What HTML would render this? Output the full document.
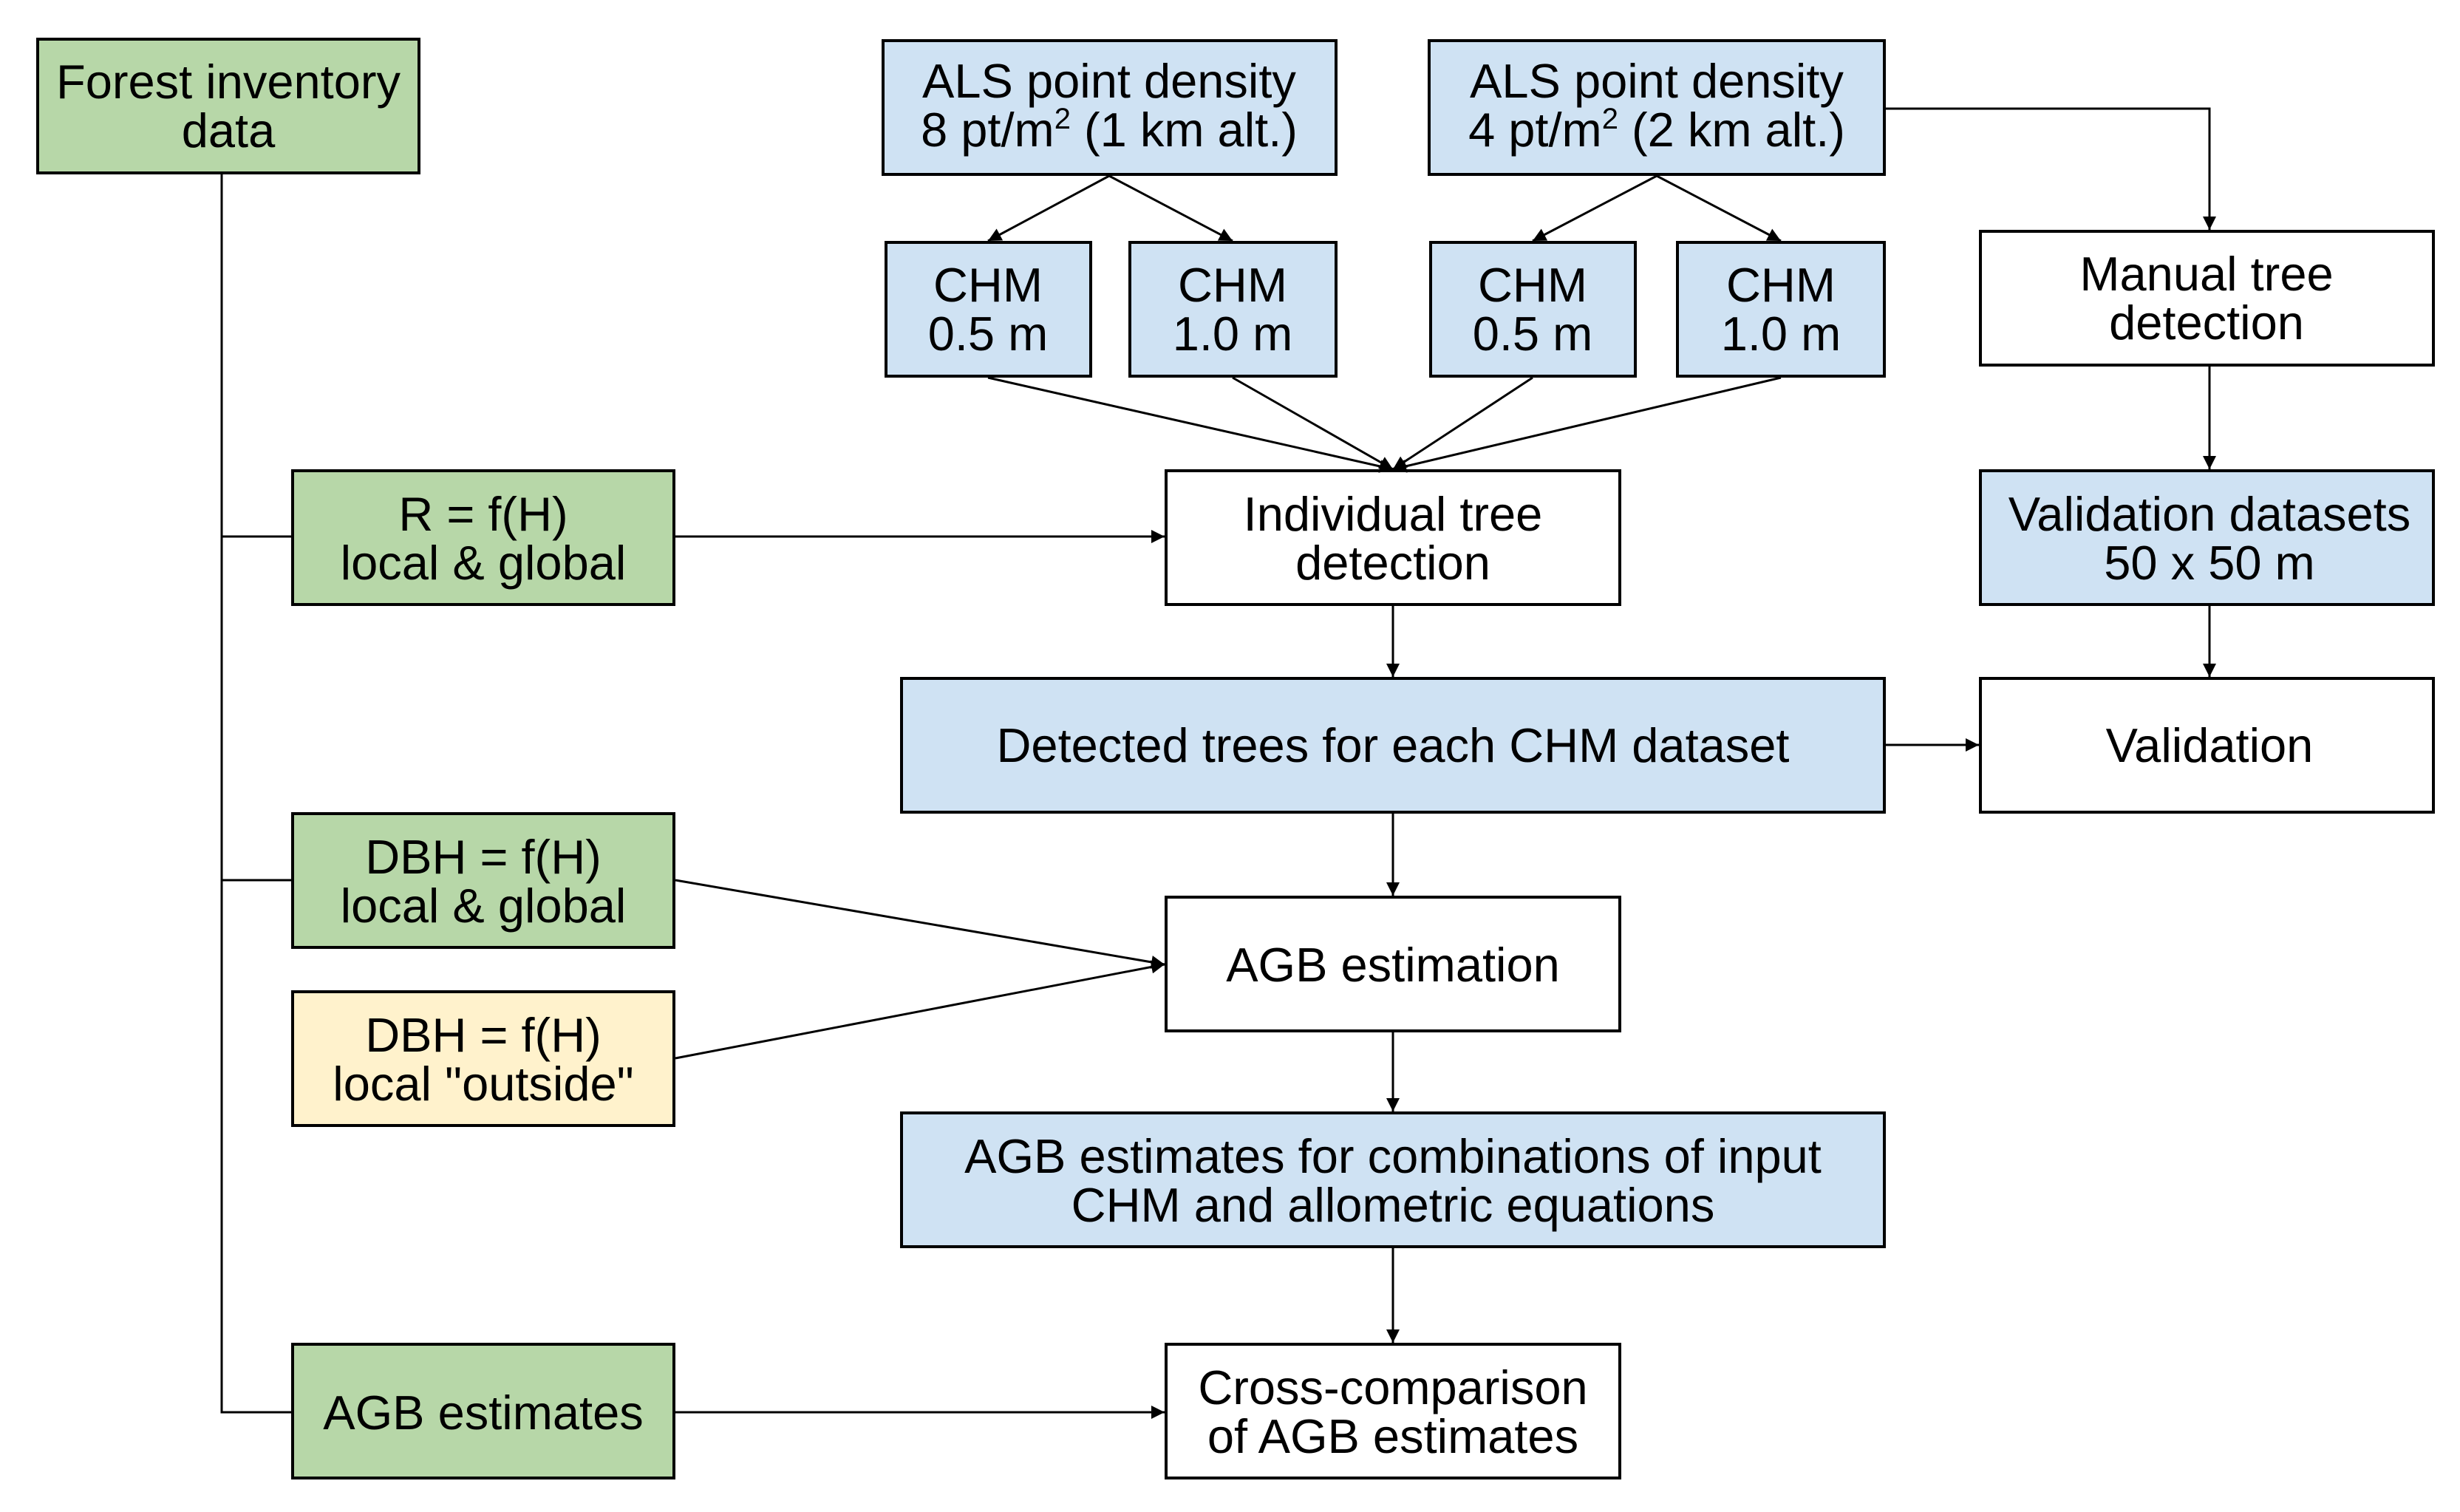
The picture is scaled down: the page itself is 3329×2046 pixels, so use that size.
<!DOCTYPE html>
<html><head><meta charset="utf-8"><style>
html,body{margin:0;padding:0;background:#fff}
svg{display:block}
text{font-family:"Liberation Sans",Arial,sans-serif;font-size:65px;fill:#000;text-anchor:middle}
</style></head><body>
<svg width="3329" height="2046" viewBox="0 0 3329 2046" xmlns="http://www.w3.org/2000/svg">
<defs>
<marker id="b" viewBox="0 0 10 10" refX="10" refY="5" markerWidth="20" markerHeight="18" orient="auto" markerUnits="userSpaceOnUse"><path d="M0,0 L10,5 L0,10 z" fill="#000"/></marker></defs>
<g stroke="#000" stroke-width="4">
<rect x="51" y="53" width="516" height="181" fill="#b7d7a8"/>
<rect x="1195" y="55" width="613" height="181" fill="#cfe2f3"/>
<rect x="1934" y="55" width="616" height="181" fill="#cfe2f3"/>
<rect x="1199" y="328" width="277" height="181" fill="#cfe2f3"/>
<rect x="1529" y="328" width="279" height="181" fill="#cfe2f3"/>
<rect x="1936" y="328" width="277" height="181" fill="#cfe2f3"/>
<rect x="2270" y="328" width="280" height="181" fill="#cfe2f3"/>
<rect x="2680" y="313" width="613" height="181" fill="#fff"/>
<rect x="1578" y="637" width="614" height="181" fill="#fff"/>
<rect x="396" y="637" width="516" height="181" fill="#b7d7a8"/>
<rect x="2680" y="637" width="613" height="181" fill="#cfe2f3"/>
<rect x="1220" y="918" width="1330" height="181" fill="#cfe2f3"/>
<rect x="2680" y="918" width="613" height="181" fill="#fff"/>
<rect x="396" y="1101" width="516" height="181" fill="#b7d7a8"/>
<rect x="1578" y="1214" width="614" height="181" fill="#fff"/>
<rect x="396" y="1342" width="516" height="181" fill="#fff2cc"/>
<rect x="1220" y="1506" width="1330" height="181" fill="#cfe2f3"/>
<rect x="396" y="1819" width="516" height="181" fill="#b7d7a8"/>
<rect x="1578" y="1819" width="614" height="181" fill="#fff"/>
</g>
<g stroke="#000" stroke-width="3" fill="none">
<path d="M300,234 V1911 H396 M300,726 H396 M300,1191 H396"/>
<path d="M1501,238 L1337,326" marker-end="url(#b)"/>
<path d="M1501,238 L1668,326" marker-end="url(#b)"/>
<path d="M2242,238 L2074,326" marker-end="url(#b)"/>
<path d="M2242,238 L2410,326" marker-end="url(#b)"/>
<path d="M1337,511 L1885,635" marker-end="url(#b)"/>
<path d="M1668,511 L1885,635" marker-end="url(#b)"/>
<path d="M2074,511 L1885,635" marker-end="url(#b)"/>
<path d="M2410,511 L1885,635" marker-end="url(#b)"/>
<path d="M2552,147 H2990 V311" marker-end="url(#b)"/>
<path d="M914,726 H1576" marker-end="url(#b)"/>
<path d="M1885,820 V916" marker-end="url(#b)"/>
<path d="M2552,1008 H2678" marker-end="url(#b)"/>
<path d="M2990,496 V635" marker-end="url(#b)"/>
<path d="M2990,820 V916" marker-end="url(#b)"/>
<path d="M1885,1101 V1212" marker-end="url(#b)"/>
<path d="M914,1191 L1576,1305" marker-end="url(#b)"/>
<path d="M914,1432 L1576,1305" marker-end="url(#b)"/>
<path d="M1885,1397 V1504" marker-end="url(#b)"/>
<path d="M1885,1689 V1817" marker-end="url(#b)"/>
<path d="M914,1911 H1576" marker-end="url(#b)"/>
</g>
<text x="309" y="133">Forest inventory</text><text x="309" y="199">data</text>
<text x="1501" y="132">ALS point density</text><text x="1501" y="198">8 pt/m<tspan font-size="40" dy="-24">2</tspan><tspan dy="24"> (1 km alt.)</tspan></text>
<text x="2242" y="132">ALS point density</text><text x="2242" y="198">4 pt/m<tspan font-size="40" dy="-24">2</tspan><tspan dy="24"> (2 km alt.)</tspan></text>
<text x="1337" y="408">CHM</text><text x="1337" y="474">0.5 m</text>
<text x="1668" y="408">CHM</text><text x="1668" y="474">1.0 m</text>
<text x="2074" y="408">CHM</text><text x="2074" y="474">0.5 m</text>
<text x="2410" y="408">CHM</text><text x="2410" y="474">1.0 m</text>
<text x="2986" y="393">Manual tree</text><text x="2986" y="459">detection</text>
<text x="1885" y="718">Individual tree</text><text x="1885" y="784">detection</text>
<text x="654" y="718">R = f(H)</text><text x="654" y="784">local &amp; global</text>
<text x="2990" y="718">Validation datasets</text><text x="2990" y="784">50 x 50 m</text>
<text x="1885" y="1031">Detected trees for each CHM dataset</text>
<text x="2990" y="1031">Validation</text>
<text x="654" y="1182">DBH = f(H)</text><text x="654" y="1248">local &amp; global</text>
<text x="1885" y="1328">AGB estimation</text>
<text x="654" y="1423">DBH = f(H)</text><text x="654" y="1489">local "outside"</text>
<text x="1885" y="1587">AGB estimates for combinations of input</text><text x="1885" y="1653">CHM and allometric equations</text>
<text x="654" y="1934">AGB estimates</text>
<text x="1885" y="1900">Cross-comparison</text><text x="1885" y="1966">of AGB estimates</text>
</svg>
</body></html>
